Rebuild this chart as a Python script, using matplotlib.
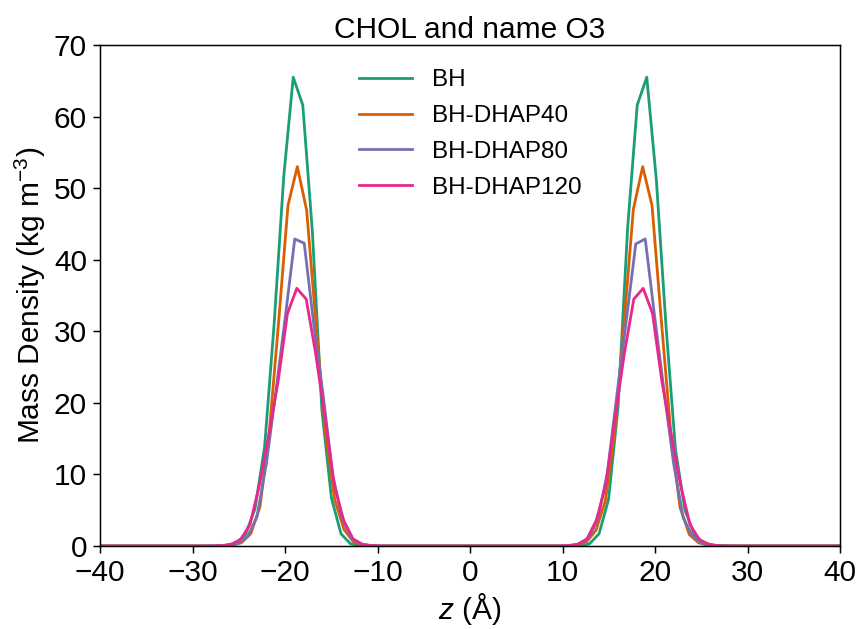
import numpy as np
import matplotlib
matplotlib.use("Agg")
import matplotlib.pyplot as plt

plt.rcParams["font.family"] = ["Liberation Sans", "DejaVu Sans"]
plt.rcParams["mathtext.fontset"] = "custom"
plt.rcParams["mathtext.rm"] = "Liberation Sans"
plt.rcParams["mathtext.it"] = "Liberation Sans:italic"

# ---------------------------------------------------------------- data
# each system has its own bin width (box length / n_bins); bins centred on z=0
LABELS = ["BH", "BH-DHAP40", "BH-DHAP80", "BH-DHAP120"]
COLORS = ["#1b9e77", "#d95f02", "#7570b3", "#e7298a"]
BIN_WIDTH = [1.033, 1.009, 1.024, 1.012]

# bin index range of the two non-zero windows (everything else reads 0)
K_ALL = (-41, 40)
K_LEFT = (-27, -11)
K_RIGHT = (10, 26)

bh_left = [0.02, 0.1, 0.4, 1.6, 5.2, 13.8, 31.0, 51.5, 65.5, 61.6, 44.0, 19.0,
           6.7, 1.7, 0.3, 0.05, 0.01]
bh_right = [0.01, 0.05, 0.3, 1.7, 6.5, 19.5, 44.5, 61.6, 65.5, 51.2, 31.0,
            13.5, 5.0, 1.5, 0.4, 0.1, 0.02]

dhap40_left = [0.03, 0.1, 0.45, 1.7, 5.5, 16.0, 31.4, 47.6, 53.0, 46.9, 31.0,
               16.0, 6.5, 2.3, 0.6, 0.12, 0.02]
dhap40_right = [0.02, 0.12, 0.6, 2.2, 6.3, 16.0, 31.0, 47.0, 53.0, 47.6, 31.5,
                16.0, 5.4, 1.6, 0.45, 0.1, 0.03]

dhap80_left = [0.03, 0.08, 0.35, 1.3, 4.0, 11.5, 21.5, 32.0, 42.9, 42.3, 31.0,
               21.0, 10.0, 3.8, 1.0, 0.25, 0.05]
dhap80_right = [0.05, 0.25, 1.0, 3.8, 10.2, 21.0, 31.5, 42.2, 42.9, 32.0, 21.5,
                11.5, 4.0, 1.3, 0.35, 0.08, 0.03]

dhap120_left = [0.05, 0.25, 0.9, 3.0, 8.5, 15.5, 23.0, 32.5, 36.0, 34.5, 27.0,
                18.0, 8.5, 3.6, 1.0, 0.25, 0.05]
dhap120_right = [0.05, 0.25, 1.0, 3.6, 8.5, 18.0, 27.0, 34.5, 36.0, 32.5, 23.0,
                 15.5, 8.5, 3.0, 0.9, 0.25, 0.05]

PROFILES = [(bh_left, bh_right), (dhap40_left, dhap40_right),
            (dhap80_left, dhap80_right), (dhap120_left, dhap120_right)]


def build_profile(left, right, d):
    k = np.arange(K_ALL[0], K_ALL[1] + 1)
    z = (k + 0.5) * d
    rho = np.zeros_like(z)
    i0 = K_LEFT[0] - K_ALL[0]
    rho[i0:i0 + len(left)] = left
    i1 = K_RIGHT[0] - K_ALL[0]
    rho[i1:i1 + len(right)] = right
    return z, rho


# ---------------------------------------------------------------- plot
dpi = 134.4
fig = plt.figure(figsize=(860 / dpi, 629 / dpi), dpi=dpi)
ax = fig.add_axes([100 / 860, 1 - 546 / 629, 740 / 860, 501 / 629])

for (left, right), d, lab, col in zip(PROFILES, BIN_WIDTH, LABELS, COLORS):
    z, rho = build_profile(left, right, d)
    ax.plot(z, rho, color=col, lw=1.5, label=lab)

ax.set_xlim(-40, 40)
ax.set_ylim(0, 70)
ax.set_xticks(np.arange(-40, 41, 10))
ax.set_yticks(np.arange(0, 71, 10))
ax.tick_params(labelsize=16)
ax.set_xlabel(r"$z$ (Å)", fontsize=16, labelpad=2)
ax.set_ylabel(r"Mass Density (kg m$^{-3}$)", fontsize=16, labelpad=3)
ax.set_title("CHOL and name O3", fontsize=16, pad=4)
ax.legend(loc="upper center", frameon=False, fontsize=13,
          handlelength=2.2, handletextpad=0.8, labelspacing=0.57,
          borderaxespad=0.6)

fig.savefig("out.png", dpi=dpi)
